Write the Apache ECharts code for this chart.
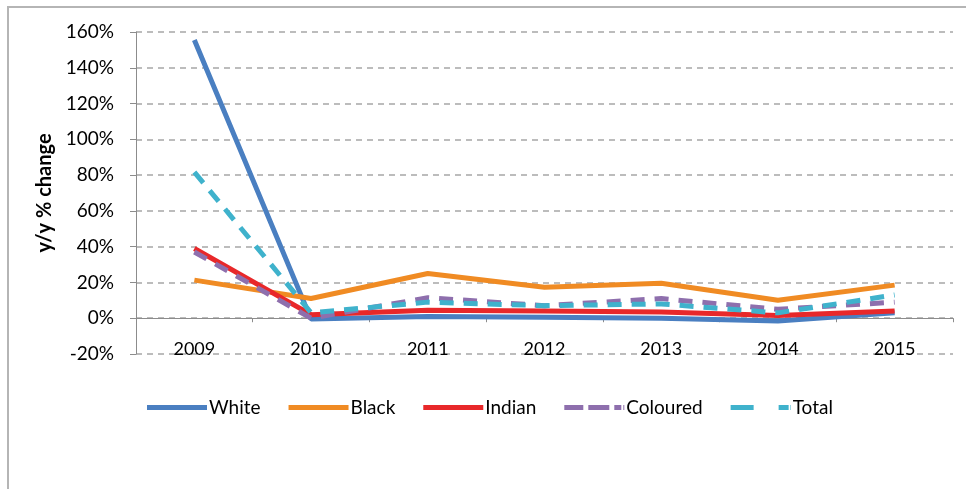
<!DOCTYPE html>
<html>
<head>
<meta charset="utf-8">
<script src="https://cdn.jsdelivr.net/npm/echarts@6/dist/echarts.min.js"></script>
<style>
  html, body { margin: 0; padding: 0; background: #fff; }
  #chart { width: 966px; height: 489px; }
</style>
</head>
<body>
<div id="chart"></div>
<script>
// categories and values (percent y/y change)
const years = ['2009', '2010', '2011', '2012', '2013', '2014', '2015'];
const white = [155.5, -0.5, 1, 0.5, 0, -1.5, 3];
const black = [21.3, 11, 25, 17.3, 19.6, 10, 18.5];
const indian = [39, 2, 4.5, 4, 3.5, 1.5, 4];
const coloured = [37, 0, 11.5, 7, 11, 5, 9];
const total = [81.7, 3, 9, 7, 8, 3, 13];

const fontFam = 'Lato, "Open Sans", sans-serif';

// legend icons drawn like the excel key (solid bar or dashes)
const solidIcon = 'path://M0,0 L60,0 L60,5 L0,5 Z';
const colouredIcon = 'path://M0,0 L19,0 L19,5 L0,5 Z M24,0 L45,0 L45,5 L24,5 Z M50,0 L57,0 L57,5 L50,5 Z M59,0 L60,0 L60,5 L59,5 Z';
const totalIcon = 'path://M0,0 L23,0 L23,5 L0,5 Z M48,0 L58,0 L58,5 L48,5 Z M59.5,0 L60,0 L60,5 L59.5,5 Z';

const chart = echarts.init(document.getElementById('chart'));

function lineSeries(name, data, color, dashed) {
  return {
    name: name,
    type: 'line',
    data: data,
    xAxisIndex: 0,
    symbol: 'none',
    lineStyle: {
      color: color,
      width: 5,
      type: dashed ? [14, 10] : 'solid'
    },
    itemStyle: { color: color }
  };
}

const option = {
  animation: false,
  textStyle: { fontFamily: fontFam },
  // frame around the picture
  graphic: [
    { type: 'line', shape: { x1: 7, y1: 7, x2: 966, y2: 7 }, style: { stroke: '#b5b5b5', lineWidth: 2 } },
    { type: 'line', shape: { x1: 8, y1: 7, x2: 8, y2: 489 }, style: { stroke: '#b5b5b5', lineWidth: 2 } }
  ],
  grid: {
    left: 136,
    right: 13,
    top: 32,
    height: 322,
    containLabel: false
  },
  legend: {
    top: 393,
    left: 142,
    itemWidth: 60,
    itemHeight: 5,
    itemGap: 28,
    textStyle: { fontSize: 19, color: '#000', fontFamily: fontFam, padding: [0, 0, 0, -3] },
    data: [
      { name: 'White', icon: solidIcon },
      { name: 'Black', icon: solidIcon },
      { name: 'Indian', icon: solidIcon },
      { name: 'Coloured', icon: colouredIcon },
      { name: 'Total', icon: totalIcon }
    ]
  },
  xAxis: [
    {
      // axis line on the 0% level
      type: 'category',
      data: years,
      boundaryGap: true,
      axisLine: { onZero: true, lineStyle: { color: '#8c8c8c', width: 1 } },
      axisTick: { show: true, length: 4, lineStyle: { color: '#8c8c8c' } },
      axisLabel: { show: false }
    },
    {
      // year labels just above the -20% line
      type: 'category',
      data: years,
      position: 'bottom',
      boundaryGap: true,
      axisLine: { show: false, onZero: false },
      axisTick: { show: false },
      axisLabel: { color: '#000', fontSize: 18, margin: -14, fontFamily: fontFam }
    }
  ],
  yAxis: {
    type: 'value',
    min: -20,
    max: 160,
    interval: 20,
    name: 'y/y % change',
    nameLocation: 'middle',
    nameGap: 81,
    nameTextStyle: { fontSize: 20, fontWeight: 'bold', color: '#000', fontFamily: fontFam },
    axisLine: { show: true, lineStyle: { color: '#8c8c8c' } },
    axisTick: { show: true, length: 6, lineStyle: { color: '#8c8c8c' } },
    axisLabel: { color: '#000', fontSize: 19, margin: 22, formatter: '{value}%', fontFamily: fontFam },
    splitLine: { show: true, lineStyle: { color: '#a6a6a6', type: [6, 5], width: 1.5 } }
  },
  series: [
    lineSeries('White', white, '#4a7fc1', false),
    lineSeries('Black', black, '#f08b23', false),
    lineSeries('Indian', indian, '#e8282a', false),
    lineSeries('Coloured', coloured, '#8e6fad', true),
    lineSeries('Total', total, '#3fb2cc', true)
  ]
};

chart.setOption(option);
</script>
</body>
</html>
